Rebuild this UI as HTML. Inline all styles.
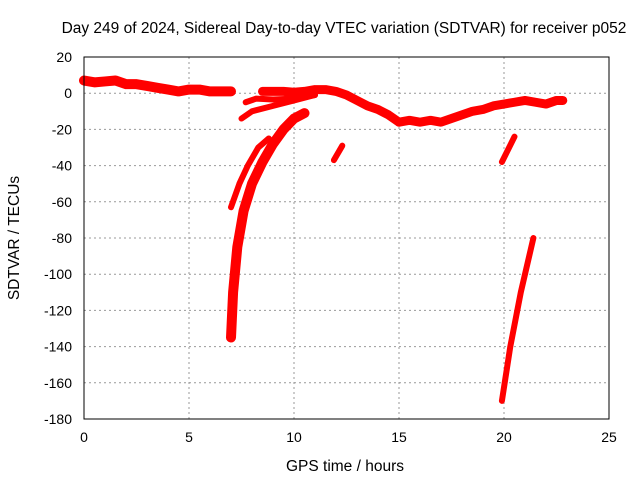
<!DOCTYPE html>
<html><head><meta charset="utf-8"><style>
body{margin:0;background:#fff}
svg text{font-family:"Liberation Sans",sans-serif;font-size:14px;fill:#000}
svg text.big{font-size:15.5px}
</style></head><body>
<svg width="640" height="480">
<text class="big" x="344" y="33" text-anchor="middle">Day 249 of 2024, Sidereal Day-to-day VTEC variation (SDTVAR) for receiver p052</text>
<g id="grid"></g><g id="series"></g>
<rect x="84" y="57" width="525" height="362" fill="none" stroke="#000" stroke-width="1"/>
<g id="ticks"></g>
<text class="big" x="345" y="471" text-anchor="middle">GPS time / hours</text>
<text class="big" transform="translate(19,238) rotate(-90)" text-anchor="middle">SDTVAR / TECUs</text>
</svg>
<script>
const xTicks=[0,5,10,15,20,25];
const yTicks=[20,0,-20,-40,-60,-80,-100,-120,-140,-160,-180];
const trackTop=[[0,7],[0.5,6],[1,6.5],[1.5,7],[2,5],[2.5,5],[3,4],[3.5,3],[4,2],[4.5,1],[5,2],[5.5,2],[6,1],[6.5,1],[7,1]];
const trackMid=[[8.5,1],[9,1],[9.5,1],[10,0.5],[10.5,1],[11,2],[11.5,2],[12,1],[12.5,-1],[13,-4],[13.5,-7],[14,-9],[14.5,-12],[15,-16]];
const trackRight=[[15,-16],[15.5,-15],[16,-16],[16.5,-15],[17,-16],[17.5,-14],[18,-12],[18.5,-10],[19,-9],[19.5,-7],[20,-6],[20.5,-5],[21,-4],[21.5,-5],[22,-6],[22.5,-4],[22.8,-4]];
const branchLow=[[7.5,-14],[8,-10],[9,-7],[10,-4],[11,-1]];
const branchHigh=[[7.7,-5],[8.2,-3],[9,-3.5],[10,-3],[11,-1]];
const steepA=[[7,-63],[7.4,-50],[7.8,-40],[8.3,-30],[8.8,-25]];
const steepB=[[7,-135],[7.1,-110],[7.3,-85],[7.6,-65],[8,-50],[8.5,-38],[9,-28],[9.5,-20],[10,-14],[10.5,-11]];
const short1=[[11.9,-37],[12.3,-29]];
const short2=[[19.9,-38],[20.5,-24]];
const steepC=[[19.9,-170],[20.3,-140],[20.8,-110],[21.4,-80]];
const X=h=>84+h*21, Y=v=>57+(20-v)*1.81;
const NS="http://www.w3.org/2000/svg";
const grid=document.getElementById('grid'),ticks=document.getElementById('ticks'),ser=document.getElementById('series');
function mk(tag,at,p){const e=document.createElementNS(NS,tag);for(const k in at)e.setAttribute(k,at[k]);p.appendChild(e);return e;}
xTicks.forEach(t=>{
 if(t>0&&t<25){const l=mk('line',{x1:X(t),x2:X(t),y1:57,y2:419,stroke:'#999','stroke-dasharray':'2,3'},grid);
 
 }
 const tx=mk('text',{x:X(t),y:442,'text-anchor':'middle'},ticks);tx.textContent=t;
 
 
});
yTicks.forEach(t=>{
 if(t<20&&t>-180){const l=mk('line',{x1:84,x2:609,y1:Y(t),y2:Y(t),stroke:'#999','stroke-dasharray':'2,3'},grid);
 
 }
 const tx=mk('text',{x:72,y:Y(t)+5,'text-anchor':'end'},ticks);tx.textContent=t;
 
 
});
const tracks=[[trackTop,10,'track-top'],[trackMid,9,'track-mid'],[trackRight,9,'track-right'],[branchLow,6,'branch-low'],[branchHigh,6,'branch-high'],[steepA,6,'steep-a'],[steepB,10,'steep-b'],[short1,6,'short-1'],[short2,6,'short-2'],[steepC,6,'steep-c']];
tracks.forEach(([d,w,n])=>{
 const p=mk('polyline',{points:d.map(q=>X(q[0])+','+Y(q[1])).join(' '),fill:'none',stroke:'#f00','stroke-width':w,'stroke-linejoin':'round','stroke-linecap':'round'},ser);
 
 
});
</script>
</body></html>
